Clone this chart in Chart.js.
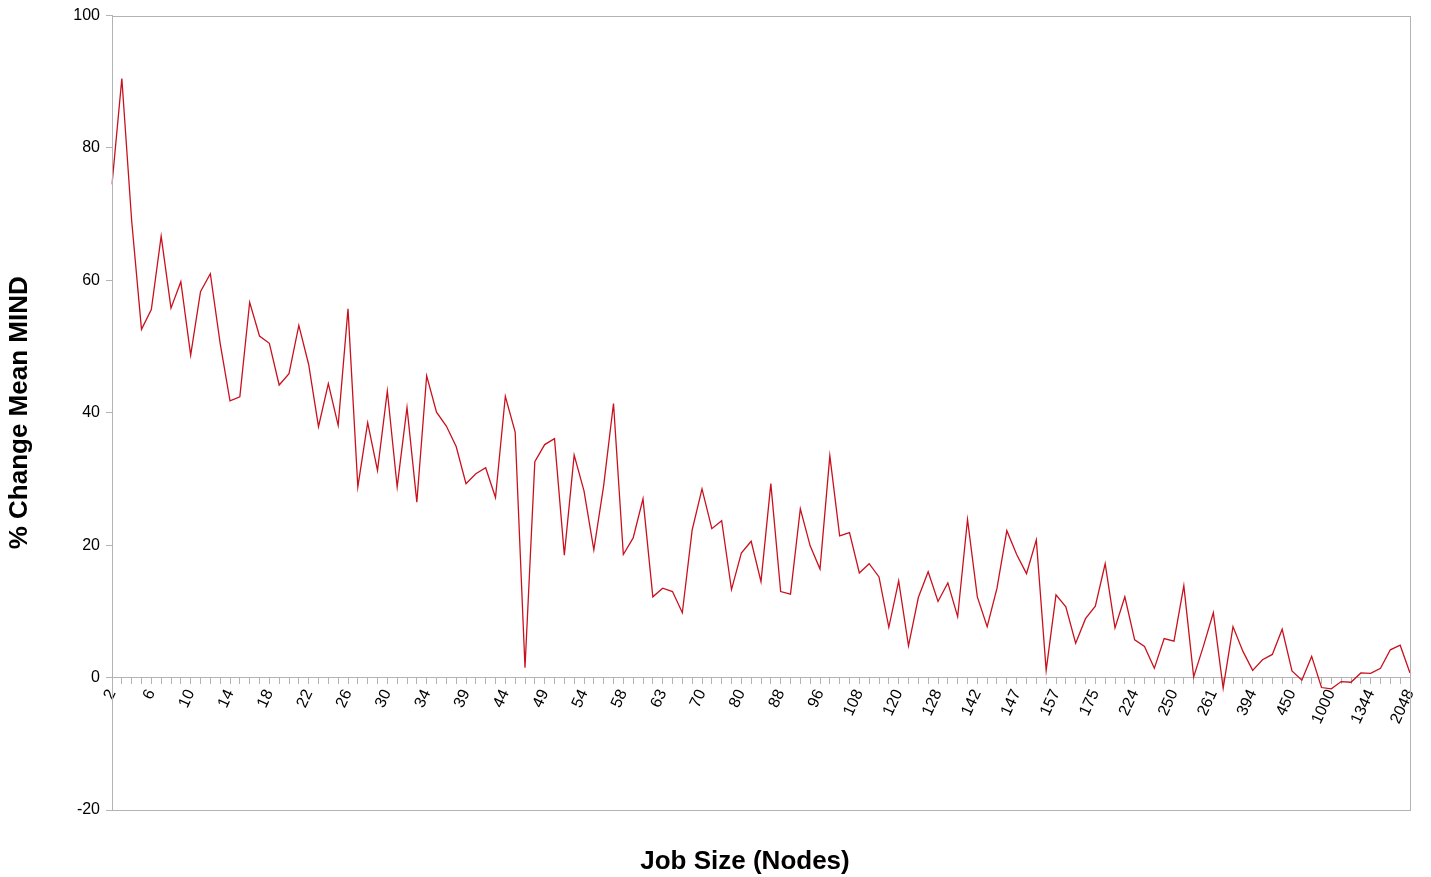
<!DOCTYPE html>
<html>
<head>
<meta charset="utf-8">
<script src="https://cdn.jsdelivr.net/npm/chart.js@4/dist/chart.umd.min.js"></script>
<style>
  html, body { margin: 0; padding: 0; background: #fff; }
  #wrap { width: 1431px; height: 877px; }
</style>
</head>
<body>
<div id="wrap"><canvas id="mindChart"></canvas></div>
<script>
// Job sizes (nodes) – every 4th one is labelled on the axis
const jobSizes = [
    2, 3, 4, 5, 6, 7, 8, 9, 10, 11, 12, 13, 14, 15, 16, 17, 18, 19, 20, 21, 22,
    23, 24, 25, 26, 27, 28, 29, 30, 31, 32, 33, 34,
    35, 36, 38, 39, 40, 41, 42, 44, 45, 46, 48, 49, 50, 51, 52, 54,
    55, 56, 57, 58, 59, 60, 62, 63, 64, 66, 68, 70, 72, 75, 78, 80,
    82, 84, 86, 88, 90, 92, 94, 96, 100, 102, 104, 108, 110, 112, 116, 120,
    122, 124, 126, 128, 130, 132, 136, 142, 143, 144, 146, 147,
    150, 152, 154, 157, 160, 164, 168, 175, 180, 192, 200, 224,
    232, 240, 248, 250, 252, 254, 256, 261, 272, 300, 350, 394,
    400, 420, 432, 450, 500, 512, 768, 1000, 1024, 1100, 1200, 1344,
    1500, 1536, 1800, 2048
];

// % change of mean MIND per job size
const pctChange = [
    74.5, 90.5, 69.0, 52.6, 55.6, 66.7, 55.8, 59.8, 48.7, 58.3,
    61.0, 50.5, 41.8, 42.4, 56.7, 51.6, 50.5, 44.2, 45.9, 53.2,
    47.3, 37.9, 44.4, 38.1, 55.7, 28.8, 38.5, 31.3, 43.3, 28.8,
    40.8, 26.5, 45.6, 40.1, 38.0, 34.9, 29.3, 30.8, 31.7, 27.2,
    42.5, 37.1, 1.5, 32.6, 35.2, 36.1, 18.5, 33.6, 28.2, 19.3,
    29.0, 41.4, 18.6, 21.1, 27.0, 12.2, 13.5, 13.0, 9.8, 22.3,
    28.5, 22.5, 23.7, 13.3, 18.8, 20.6, 14.5, 29.3, 13.0, 12.6,
    25.5, 19.9, 16.4, 33.5, 21.4, 21.9, 15.8, 17.2, 15.2, 7.6,
    14.6, 4.8, 12.1, 16.0, 11.5, 14.3, 9.2, 23.9, 12.2, 7.7,
    13.5, 22.2, 18.6, 15.7, 20.8, 1.1, 12.5, 10.7, 5.2, 8.9,
    10.8, 17.2, 7.5, 12.2, 5.7, 4.7, 1.4, 5.9, 5.5, 13.9,
    0.1, 4.8, 9.8, -1.6, 7.7, 4.0, 1.1, 2.7, 3.5, 7.3,
    1.0, -0.4, 3.2, -1.5, -1.7, -0.6, -0.7, 0.7, 0.65, 1.4,
    4.2, 4.9, 0.7
];

const yMin = -20;
const yMax = 100;
const yStep = 20;

const xTitle = 'Job Size (Nodes)';
const yTitle = '% Change Mean MIND';

const axisGray = '#b3b3b3';
const titleFont = "bold 26px 'Liberation Sans', Arial, sans-serif";

// Plot area frame (LibreOffice style)
const framePlugin = {
    id: 'frame',
    afterDraw(chart) {
        const a = chart.chartArea;
        const ctx = chart.ctx;
        ctx.save();
        ctx.strokeStyle = axisGray;
        ctx.lineWidth = 1;
        ctx.strokeRect(Math.round(a.left) + 0.5, Math.round(a.top) + 0.5,
            Math.round(a.right - a.left), Math.round(a.bottom - a.top));
        ctx.restore();
    }
};

// X axis title sits under the plot (the x axis itself is drawn at y = 0)
const xTitlePlugin = {
    id: 'xTitle',
    afterDraw(chart) {
        const ctx = chart.ctx;
        ctx.save();
        ctx.font = titleFont;
        ctx.fillStyle = '#000';
        ctx.textAlign = 'center';
        ctx.textBaseline = 'middle';
        ctx.fillText(xTitle, 745, chart.chartArea.bottom + 52);
        ctx.restore();
    }
};

Chart.defaults.font.family = "'Liberation Sans', Arial, sans-serif";
Chart.defaults.color = '#000';

const ctx = document.getElementById('mindChart').getContext('2d');
new Chart(ctx, {
    type: 'line',
    data: {
        labels: jobSizes.map(String),
        datasets: [{
            data: pctChange,
            borderColor: '#c9111e',
            borderWidth: 1.3,
            pointRadius: 0,
            tension: 0,
            fill: false
        }]
    },
    options: {
        responsive: true,
        maintainAspectRatio: false,
        animation: false,
        layout: { padding: { top: 15, right: 21, bottom: 67, left: 0 } },
        plugins: {
            legend: { display: false },
            tooltip: { enabled: false }
        },
        scales: {
            x: {
                type: 'category',
                position: { y: 0 },
                offset: false,
                grid: { drawOnChartArea: false, color: axisGray, tickLength: 6 },
                border: { color: axisGray },
                ticks: {
                    autoSkip: false,
                    minRotation: 65,
                    maxRotation: 65,
                    padding: 3,
                    font: { size: 16 },
                    callback: function(value, index) {
                        return index % 4 === 0 ? this.getLabelForValue(value) : '';
                    }
                }
            },
            y: {
                min: yMin,
                max: yMax,
                grid: { drawOnChartArea: false, color: axisGray, tickLength: 6 },
                border: { color: axisGray },
                ticks: { stepSize: yStep, padding: 6, font: { size: 16 } },
                title: {
                    display: true,
                    text: yTitle,
                    font: { size: 26, weight: 'bold' },
                    padding: { top: 4, bottom: 0 }
                },
                afterFit(scale) { scale.width = 112; }
            }
        }
    },
    plugins: [framePlugin, xTitlePlugin]
});
</script>
</body>
</html>
